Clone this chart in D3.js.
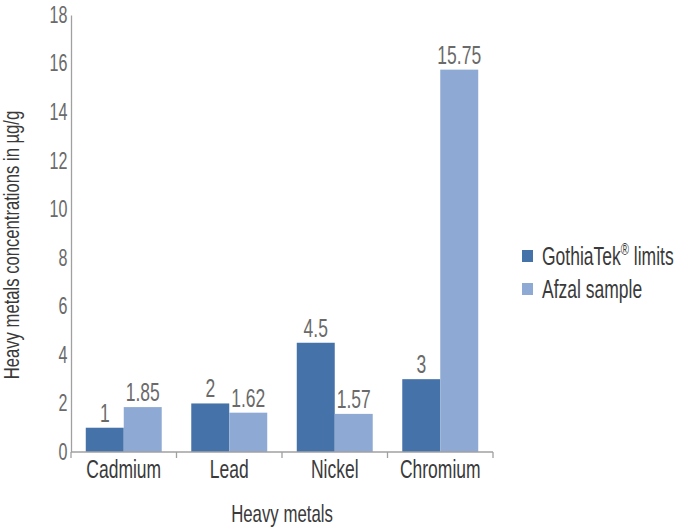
<!DOCTYPE html>
<html>
<head>
<meta charset="utf-8">
<script src="https://cdn.jsdelivr.net/npm/d3@7"></script>
<style>
  body { margin: 0; background: #fff; }
  svg text { font-family: "Liberation Sans", Arial, sans-serif; }
</style>
</head>
<body>
<svg id="chart" width="686" height="531"></svg>
<script>
// chart data
const categories = ['Cadmium', 'Lead', 'Nickel', 'Chromium'];
const seriesNames = ['GothiaTek® limits', 'Afzal sample'];
const gothiaValues = [1, 2, 4.5, 3];
const afzalValues = [1.85, 1.62, 1.57, 15.75];
const valueLabels = [['1', '2', '4.5', '3'], ['1.85', '1.62', '1.57', '15.75']];
const yTicks = [0, 2, 4, 6, 8, 10, 12, 14, 16, 18];
const colors = ['#4573a9', '#8eaad4'];

// the reference uses a condensed face, so squeeze text horizontally
const squeeze = 0.7;

const svg = d3.select('#chart');
const margin = { left: 71, right: 193, top: 15, bottom: 79 };
const width = 686 - margin.left - margin.right;
const height = 531 - margin.top - margin.bottom;

const g = svg.append('g').attr('transform', `translate(${margin.left},${margin.top})`);

const x0 = d3.scaleBand().domain(categories).range([0, width])
    .paddingInner(0.28).paddingOuter(0.14);
const x1 = d3.scaleBand().domain([0, 1]).range([0, x0.bandwidth()]);
const y = d3.scaleLinear().domain([0, 18]).range([height, 0]);

const series = [gothiaValues, afzalValues];

// bars + value labels
series.forEach((vals, si) => {
    g.selectAll('.bar-' + si)
        .data(vals)
        .enter()
        .append('rect')
        .attr('class', 'bar-' + si)
        .attr('x', (d, i) => x0(categories[i]) + x1(si))
        .attr('y', d => y(d))
        .attr('width', x1.bandwidth())
        .attr('height', d => height - y(d))
        .attr('fill', colors[si]);

    g.selectAll('.lbl-' + si)
        .data(vals)
        .enter()
        .append('text')
        .attr('class', 'lbl-' + si)
        .attr('transform', (d, i) =>
            `translate(${x0(categories[i]) + x1(si) + x1.bandwidth() / 2},${y(d) - 6}) scale(${squeeze},1)`)
        .attr('text-anchor', 'middle')
        .attr('font-size', 25)
        .attr('fill', '#6a6a6a')
        .text((d, i) => valueLabels[si][i]);
});

// y axis
const yAxis = g.append('g')
    .call(d3.axisLeft(y).tickValues(yTicks).tickSize(0).tickPadding(5));
yAxis.select('.domain').attr('stroke', '#a0a0a0').attr('stroke-width', 1.3);
yAxis.selectAll('text')
    .attr('font-size', 23)
    .attr('fill', '#6a6a6a')
    .attr('font-family', '"Liberation Sans", Arial, sans-serif')
    .attr('transform', `scale(${squeeze},1)`);

// x axis with ticks at group boundaries
const xAxisG = g.append('g').attr('transform', `translate(0,${height})`);
xAxisG.append('line')
    .attr('x1', 0).attr('x2', width)
    .attr('stroke', '#a0a0a0').attr('stroke-width', 1.3);
const boundaries = categories.map(c => x0(c) - x0.step() * x0.paddingInner() / 2)
    .concat([width]);
xAxisG.selectAll('.xtick')
    .data(boundaries)
    .enter()
    .append('line')
    .attr('x1', d => d).attr('x2', d => d)
    .attr('y1', 0).attr('y2', 6)
    .attr('stroke', '#a0a0a0').attr('stroke-width', 1.3);
xAxisG.selectAll('.xlabel')
    .data(categories)
    .enter()
    .append('text')
    .attr('transform', d => `translate(${x0(d) + x0.bandwidth() / 2},26) scale(${squeeze},1)`)
    .attr('text-anchor', 'middle')
    .attr('font-size', 25)
    .attr('fill', '#3a3a3a')
    .text(d => d);

// axis titles
svg.append('text')
    .attr('transform', `translate(${margin.left + width / 2},522) scale(${squeeze},1)`)
    .attr('text-anchor', 'middle')
    .attr('font-size', 24)
    .attr('fill', '#3a3a3a')
    .text('Heavy metals');

svg.append('text')
    .attr('transform', 'translate(19,245) rotate(-90) scale(0.756,1)')
    .attr('text-anchor', 'middle')
    .attr('font-size', 22)
    .attr('fill', '#3a3a3a')
    .text('Heavy metals concentrations in µg/g');

// legend
const legend = svg.append('g').attr('transform', 'translate(522,250)');
seriesNames.forEach((name, i) => {
    const row = legend.append('g').attr('transform', `translate(0,${i * 33})`);
    row.append('rect').attr('width', 11).attr('height', 12).attr('fill', colors[i]);
    const t = row.append('text')
        .attr('transform', `translate(20,15) scale(${squeeze},1)`)
        .attr('font-size', 25)
        .attr('fill', '#3a3a3a');
    if (i === 0) {
        t.append('tspan').text('GothiaTek');
        t.append('tspan').attr('font-size', 16).attr('dy', -10).text('®');
        t.append('tspan').attr('dy', 10).text('   limits');
    } else {
        t.text(name);
    }
});
</script>
</body>
</html>
